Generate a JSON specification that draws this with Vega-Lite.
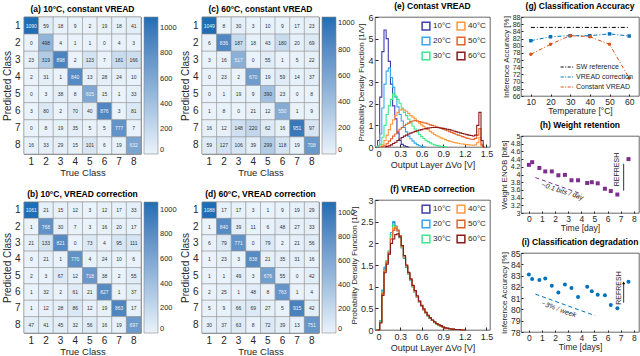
{
"$schema":"https://vega.github.io/schema/vega-lite/v6.json",
"padding":{"left":2,"top":1,"right":0,"bottom":0},
"config":{
 "font":"Liberation Sans",
 "view":{"stroke":"#262626","strokeWidth":0.7},
 "axis":{"labelColor":"#262626","titleColor":"#262626","titleFontWeight":"normal","grid":false,"domain":false,"tickColor":"#262626","labelFont":"Liberation Sans","titleFont":"Liberation Sans"},
 "title":{"fontSize":8.5,"fontWeight":"bold","color":"#000","offset":3},
 "legend":{"labelColor":"#262626","labelFont":"Liberation Sans"}
},
"datasets":{
"ca":[{"p":1,"t":1,"v":1090},{"p":1,"t":2,"v":59},{"p":1,"t":3,"v":18},{"p":1,"t":4,"v":9},{"p":1,"t":5,"v":2},{"p":1,"t":6,"v":19},{"p":1,"t":7,"v":18},{"p":1,"t":8,"v":41},
{"p":2,"t":1,"v":0},{"p":2,"t":2,"v":498},{"p":2,"t":3,"v":4},{"p":2,"t":4,"v":1},{"p":2,"t":5,"v":1},{"p":2,"t":6,"v":0},{"p":2,"t":7,"v":4},{"p":2,"t":8,"v":3},
{"p":3,"t":1,"v":23},{"p":3,"t":2,"v":319},{"p":3,"t":3,"v":898},{"p":3,"t":4,"v":2},{"p":3,"t":5,"v":123},{"p":3,"t":6,"v":7},{"p":3,"t":7,"v":181},{"p":3,"t":8,"v":166},
{"p":4,"t":1,"v":2},{"p":4,"t":2,"v":31},{"p":4,"t":3,"v":1},{"p":4,"t":4,"v":840},{"p":4,"t":5,"v":13},{"p":4,"t":6,"v":28},{"p":4,"t":7,"v":24},{"p":4,"t":8,"v":10},
{"p":5,"t":1,"v":0},{"p":5,"t":2,"v":3},{"p":5,"t":3,"v":38},{"p":5,"t":4,"v":8},{"p":5,"t":5,"v":605},{"p":5,"t":6,"v":15},{"p":5,"t":7,"v":1},{"p":5,"t":8,"v":33},
{"p":6,"t":1,"v":3},{"p":6,"t":2,"v":80},{"p":6,"t":3,"v":2},{"p":6,"t":4,"v":70},{"p":6,"t":5,"v":40},{"p":6,"t":6,"v":876},{"p":6,"t":7,"v":3},{"p":6,"t":8,"v":81},
{"p":7,"t":1,"v":0},{"p":7,"t":2,"v":8},{"p":7,"t":3,"v":19},{"p":7,"t":4,"v":35},{"p":7,"t":5,"v":5},{"p":7,"t":6,"v":5},{"p":7,"t":7,"v":777},{"p":7,"t":8,"v":7},
{"p":8,"t":1,"v":16},{"p":8,"t":2,"v":33},{"p":8,"t":3,"v":29},{"p":8,"t":4,"v":15},{"p":8,"t":5,"v":101},{"p":8,"t":6,"v":6},{"p":8,"t":7,"v":19},{"p":8,"t":8,"v":632}],
"cb":[{"p":1,"t":1,"v":1061},{"p":1,"t":2,"v":21},{"p":1,"t":3,"v":15},{"p":1,"t":4,"v":12},{"p":1,"t":5,"v":3},{"p":1,"t":6,"v":12},{"p":1,"t":7,"v":17},{"p":1,"t":8,"v":33},
{"p":2,"t":1,"v":1},{"p":2,"t":2,"v":768},{"p":2,"t":3,"v":30},{"p":2,"t":4,"v":7},{"p":2,"t":5,"v":3},{"p":2,"t":6,"v":16},{"p":2,"t":7,"v":20},{"p":2,"t":8,"v":17},
{"p":3,"t":1,"v":21},{"p":3,"t":2,"v":133},{"p":3,"t":3,"v":821},{"p":3,"t":4,"v":0},{"p":3,"t":5,"v":73},{"p":3,"t":6,"v":4},{"p":3,"t":7,"v":95},{"p":3,"t":8,"v":111},
{"p":4,"t":1,"v":0},{"p":4,"t":2,"v":21},{"p":4,"t":3,"v":1},{"p":4,"t":4,"v":770},{"p":4,"t":5,"v":4},{"p":4,"t":6,"v":24},{"p":4,"t":7,"v":10},{"p":4,"t":8,"v":6},
{"p":5,"t":1,"v":2},{"p":5,"t":2,"v":3},{"p":5,"t":3,"v":67},{"p":5,"t":4,"v":12},{"p":5,"t":5,"v":718},{"p":5,"t":6,"v":38},{"p":5,"t":7,"v":2},{"p":5,"t":8,"v":55},
{"p":6,"t":1,"v":1},{"p":6,"t":2,"v":32},{"p":6,"t":3,"v":2},{"p":6,"t":4,"v":61},{"p":6,"t":5,"v":21},{"p":6,"t":6,"v":827},{"p":6,"t":7,"v":1},{"p":6,"t":8,"v":37},
{"p":7,"t":1,"v":1},{"p":7,"t":2,"v":12},{"p":7,"t":3,"v":28},{"p":7,"t":4,"v":86},{"p":7,"t":5,"v":12},{"p":7,"t":6,"v":19},{"p":7,"t":7,"v":863},{"p":7,"t":8,"v":17},
{"p":8,"t":1,"v":47},{"p":8,"t":2,"v":41},{"p":8,"t":3,"v":45},{"p":8,"t":4,"v":32},{"p":8,"t":5,"v":56},{"p":8,"t":6,"v":16},{"p":8,"t":7,"v":19},{"p":8,"t":8,"v":697}],
"cc":[{"p":1,"t":1,"v":1049},{"p":1,"t":2,"v":8},{"p":1,"t":3,"v":30},{"p":1,"t":4,"v":3},{"p":1,"t":5,"v":10},{"p":1,"t":6,"v":9},{"p":1,"t":7,"v":17},{"p":1,"t":8,"v":23},
{"p":2,"t":1,"v":6},{"p":2,"t":2,"v":836},{"p":2,"t":3,"v":187},{"p":2,"t":4,"v":18},{"p":2,"t":5,"v":43},{"p":2,"t":6,"v":180},{"p":2,"t":7,"v":20},{"p":2,"t":8,"v":69},
{"p":3,"t":1,"v":3},{"p":3,"t":2,"v":16},{"p":3,"t":3,"v":517},{"p":3,"t":4,"v":0},{"p":3,"t":5,"v":55},{"p":3,"t":6,"v":1},{"p":3,"t":7,"v":5},{"p":3,"t":8,"v":22},
{"p":4,"t":1,"v":0},{"p":4,"t":2,"v":23},{"p":4,"t":3,"v":2},{"p":4,"t":4,"v":670},{"p":4,"t":5,"v":19},{"p":4,"t":6,"v":59},{"p":4,"t":7,"v":14},{"p":4,"t":8,"v":37},
{"p":5,"t":1,"v":0},{"p":5,"t":2,"v":1},{"p":5,"t":3,"v":19},{"p":5,"t":4,"v":9},{"p":5,"t":5,"v":390},{"p":5,"t":6,"v":23},{"p":5,"t":7,"v":0},{"p":5,"t":8,"v":8},
{"p":6,"t":1,"v":1},{"p":6,"t":2,"v":8},{"p":6,"t":3,"v":0},{"p":6,"t":4,"v":21},{"p":6,"t":5,"v":12},{"p":6,"t":6,"v":550},{"p":6,"t":7,"v":1},{"p":6,"t":8,"v":9},
{"p":7,"t":1,"v":16},{"p":7,"t":2,"v":12},{"p":7,"t":3,"v":148},{"p":7,"t":4,"v":220},{"p":7,"t":5,"v":62},{"p":7,"t":6,"v":16},{"p":7,"t":7,"v":951},{"p":7,"t":8,"v":97},
{"p":8,"t":1,"v":59},{"p":8,"t":2,"v":127},{"p":8,"t":3,"v":106},{"p":8,"t":4,"v":39},{"p":8,"t":5,"v":299},{"p":8,"t":6,"v":118},{"p":8,"t":7,"v":19},{"p":8,"t":8,"v":708}],
"cd":[{"p":1,"t":1,"v":1088},{"p":1,"t":2,"v":17},{"p":1,"t":3,"v":17},{"p":1,"t":4,"v":3},{"p":1,"t":5,"v":1},{"p":1,"t":6,"v":9},{"p":1,"t":7,"v":19},{"p":1,"t":8,"v":29},
{"p":2,"t":1,"v":1},{"p":2,"t":2,"v":840},{"p":2,"t":3,"v":39},{"p":2,"t":4,"v":11},{"p":2,"t":5,"v":6},{"p":2,"t":6,"v":48},{"p":2,"t":7,"v":27},{"p":2,"t":8,"v":33},
{"p":3,"t":1,"v":6},{"p":3,"t":2,"v":79},{"p":3,"t":3,"v":771},{"p":3,"t":4,"v":0},{"p":3,"t":5,"v":79},{"p":3,"t":6,"v":2},{"p":3,"t":7,"v":21},{"p":3,"t":8,"v":56},
{"p":4,"t":1,"v":1},{"p":4,"t":2,"v":23},{"p":4,"t":3,"v":3},{"p":4,"t":4,"v":838},{"p":4,"t":5,"v":21},{"p":4,"t":6,"v":35},{"p":4,"t":7,"v":31},{"p":4,"t":8,"v":16},
{"p":5,"t":1,"v":1},{"p":5,"t":2,"v":1},{"p":5,"t":3,"v":49},{"p":5,"t":4,"v":3},{"p":5,"t":5,"v":676},{"p":5,"t":6,"v":55},{"p":5,"t":7,"v":0},{"p":5,"t":8,"v":42},
{"p":6,"t":1,"v":2},{"p":6,"t":2,"v":25},{"p":6,"t":3,"v":1},{"p":6,"t":4,"v":48},{"p":6,"t":5,"v":8},{"p":6,"t":6,"v":763},{"p":6,"t":7,"v":1},{"p":6,"t":8,"v":4},
{"p":7,"t":1,"v":5},{"p":7,"t":2,"v":9},{"p":7,"t":3,"v":66},{"p":7,"t":4,"v":69},{"p":7,"t":5,"v":27},{"p":7,"t":6,"v":5},{"p":7,"t":7,"v":915},{"p":7,"t":8,"v":42},
{"p":8,"t":1,"v":30},{"p":8,"t":2,"v":37},{"p":8,"t":3,"v":63},{"p":8,"t":4,"v":8},{"p":8,"t":5,"v":72},{"p":8,"t":6,"v":39},{"p":8,"t":7,"v":13},{"p":8,"t":8,"v":751}],
"pe":[
{"T":"10°C","x":-0.03,"y":0},{"T":"10°C","x":0,"y":0.3},{"T":"10°C","x":0.03,"y":2.3},{"T":"10°C","x":0.06,"y":4.4},{"T":"10°C","x":0.09,"y":5.4},{"T":"10°C","x":0.12,"y":5.0},{"T":"10°C","x":0.15,"y":3.95},{"T":"10°C","x":0.18,"y":2.9},{"T":"10°C","x":0.21,"y":1.9},{"T":"10°C","x":0.24,"y":1.3},{"T":"10°C","x":0.27,"y":0.65},{"T":"10°C","x":0.3,"y":0.3},{"T":"10°C","x":0.33,"y":0.12},{"T":"10°C","x":0.36,"y":0.05},{"T":"10°C","x":0.39,"y":0.02},{"T":"10°C","x":0.42,"y":0},
{"T":"20°C","x":-0.03,"y":0},{"T":"20°C","x":0,"y":0.05},{"T":"20°C","x":0.03,"y":0.6},{"T":"20°C","x":0.06,"y":1.8},{"T":"20°C","x":0.09,"y":2.9},{"T":"20°C","x":0.12,"y":3.5},{"T":"20°C","x":0.15,"y":3.65},{"T":"20°C","x":0.18,"y":3.2},{"T":"20°C","x":0.21,"y":2.75},{"T":"20°C","x":0.24,"y":2.3},{"T":"20°C","x":0.27,"y":1.85},{"T":"20°C","x":0.3,"y":1.5},{"T":"20°C","x":0.33,"y":1.2},{"T":"20°C","x":0.36,"y":0.9},{"T":"20°C","x":0.39,"y":0.7},{"T":"20°C","x":0.42,"y":0.5},{"T":"20°C","x":0.45,"y":0.38},{"T":"20°C","x":0.48,"y":0.27},{"T":"20°C","x":0.51,"y":0.18},{"T":"20°C","x":0.54,"y":0.11},{"T":"20°C","x":0.57,"y":0.06},{"T":"20°C","x":0.6,"y":0.03},{"T":"20°C","x":0.63,"y":0.01},{"T":"20°C","x":0.66,"y":0},
{"T":"30°C","x":-0.03,"y":0},{"T":"30°C","x":0,"y":0.02},{"T":"30°C","x":0.03,"y":0.12},{"T":"30°C","x":0.06,"y":0.45},{"T":"30°C","x":0.09,"y":1.0},{"T":"30°C","x":0.12,"y":1.5},{"T":"30°C","x":0.15,"y":1.9},{"T":"30°C","x":0.18,"y":2.2},{"T":"30°C","x":0.21,"y":2.45},{"T":"30°C","x":0.24,"y":2.35},{"T":"30°C","x":0.27,"y":2.2},{"T":"30°C","x":0.3,"y":2.02},{"T":"30°C","x":0.33,"y":1.8},{"T":"30°C","x":0.36,"y":1.6},{"T":"30°C","x":0.39,"y":1.45},{"T":"30°C","x":0.42,"y":1.28},{"T":"30°C","x":0.45,"y":1.12},{"T":"30°C","x":0.48,"y":0.97},{"T":"30°C","x":0.51,"y":0.83},{"T":"30°C","x":0.54,"y":0.7},{"T":"30°C","x":0.57,"y":0.58},{"T":"30°C","x":0.6,"y":0.48},{"T":"30°C","x":0.63,"y":0.39},{"T":"30°C","x":0.66,"y":0.31},{"T":"30°C","x":0.69,"y":0.25},{"T":"30°C","x":0.72,"y":0.19},{"T":"30°C","x":0.75,"y":0.14},{"T":"30°C","x":0.78,"y":0.1},{"T":"30°C","x":0.81,"y":0.07},{"T":"30°C","x":0.84,"y":0.05},{"T":"30°C","x":0.87,"y":0.03},{"T":"30°C","x":0.9,"y":0.02},{"T":"30°C","x":0.93,"y":0.01},{"T":"30°C","x":0.96,"y":0},
{"T":"40°C","x":0,"y":0},{"T":"40°C","x":0.03,"y":0.02},{"T":"40°C","x":0.06,"y":0.1},{"T":"40°C","x":0.09,"y":0.3},{"T":"40°C","x":0.12,"y":0.55},{"T":"40°C","x":0.15,"y":0.8},{"T":"40°C","x":0.18,"y":1.05},{"T":"40°C","x":0.21,"y":1.25},{"T":"40°C","x":0.24,"y":1.45},{"T":"40°C","x":0.27,"y":1.6},{"T":"40°C","x":0.3,"y":1.7},{"T":"40°C","x":0.33,"y":1.75},{"T":"40°C","x":0.36,"y":1.7},{"T":"40°C","x":0.39,"y":1.65},{"T":"40°C","x":0.42,"y":1.55},{"T":"40°C","x":0.45,"y":1.45},{"T":"40°C","x":0.48,"y":1.38},{"T":"40°C","x":0.51,"y":1.3},{"T":"40°C","x":0.54,"y":1.2},{"T":"40°C","x":0.57,"y":1.1},{"T":"40°C","x":0.6,"y":1.02},{"T":"40°C","x":0.63,"y":0.95},{"T":"40°C","x":0.66,"y":0.88},{"T":"40°C","x":0.69,"y":0.8},{"T":"40°C","x":0.72,"y":0.72},{"T":"40°C","x":0.75,"y":0.65},{"T":"40°C","x":0.78,"y":0.58},{"T":"40°C","x":0.81,"y":0.52},{"T":"40°C","x":0.84,"y":0.47},{"T":"40°C","x":0.87,"y":0.42},{"T":"40°C","x":0.9,"y":0.38},{"T":"40°C","x":0.93,"y":0.34},{"T":"40°C","x":0.96,"y":0.3},{"T":"40°C","x":0.99,"y":0.27},{"T":"40°C","x":1.02,"y":0.24},{"T":"40°C","x":1.05,"y":0.21},{"T":"40°C","x":1.08,"y":0.19},{"T":"40°C","x":1.11,"y":0.17},{"T":"40°C","x":1.14,"y":0.15},{"T":"40°C","x":1.17,"y":0.14},{"T":"40°C","x":1.2,"y":0.12},{"T":"40°C","x":1.23,"y":0.11},{"T":"40°C","x":1.26,"y":0.1},{"T":"40°C","x":1.29,"y":0.09},{"T":"40°C","x":1.32,"y":0.08},{"T":"40°C","x":1.35,"y":0.1},{"T":"40°C","x":1.38,"y":0.2},{"T":"40°C","x":1.41,"y":0.45},{"T":"40°C","x":1.44,"y":0.05},{"T":"40°C","x":1.47,"y":0},
{"T":"50°C","x":0.03,"y":0},{"T":"50°C","x":0.06,"y":0.02},{"T":"50°C","x":0.09,"y":0.06},{"T":"50°C","x":0.12,"y":0.15},{"T":"50°C","x":0.15,"y":0.27},{"T":"50°C","x":0.18,"y":0.38},{"T":"50°C","x":0.21,"y":0.5},{"T":"50°C","x":0.24,"y":0.6},{"T":"50°C","x":0.27,"y":0.72},{"T":"50°C","x":0.3,"y":0.82},{"T":"50°C","x":0.33,"y":0.9},{"T":"50°C","x":0.36,"y":0.98},{"T":"50°C","x":0.39,"y":1.05},{"T":"50°C","x":0.42,"y":1.1},{"T":"50°C","x":0.45,"y":1.17},{"T":"50°C","x":0.48,"y":1.2},{"T":"50°C","x":0.51,"y":1.22},{"T":"50°C","x":0.54,"y":1.2},{"T":"50°C","x":0.57,"y":1.18},{"T":"50°C","x":0.6,"y":1.15},{"T":"50°C","x":0.63,"y":1.12},{"T":"50°C","x":0.66,"y":1.1},{"T":"50°C","x":0.69,"y":1.06},{"T":"50°C","x":0.72,"y":1.02},{"T":"50°C","x":0.75,"y":1.0},{"T":"50°C","x":0.78,"y":0.97},{"T":"50°C","x":0.81,"y":0.93},{"T":"50°C","x":0.84,"y":0.9},{"T":"50°C","x":0.87,"y":0.86},{"T":"50°C","x":0.9,"y":0.82},{"T":"50°C","x":0.93,"y":0.79},{"T":"50°C","x":0.96,"y":0.75},{"T":"50°C","x":0.99,"y":0.71},{"T":"50°C","x":1.02,"y":0.67},{"T":"50°C","x":1.05,"y":0.63},{"T":"50°C","x":1.08,"y":0.59},{"T":"50°C","x":1.11,"y":0.55},{"T":"50°C","x":1.14,"y":0.52},{"T":"50°C","x":1.17,"y":0.48},{"T":"50°C","x":1.2,"y":0.45},{"T":"50°C","x":1.23,"y":0.41},{"T":"50°C","x":1.26,"y":0.38},{"T":"50°C","x":1.29,"y":0.36},{"T":"50°C","x":1.32,"y":0.35},{"T":"50°C","x":1.35,"y":0.4},{"T":"50°C","x":1.38,"y":0.55},{"T":"50°C","x":1.41,"y":0.85},{"T":"50°C","x":1.44,"y":0.1},{"T":"50°C","x":1.47,"y":0},
{"T":"60°C","x":0.09,"y":0},{"T":"60°C","x":0.12,"y":0.02},{"T":"60°C","x":0.15,"y":0.05},{"T":"60°C","x":0.18,"y":0.1},{"T":"60°C","x":0.21,"y":0.16},{"T":"60°C","x":0.24,"y":0.22},{"T":"60°C","x":0.27,"y":0.3},{"T":"60°C","x":0.3,"y":0.37},{"T":"60°C","x":0.33,"y":0.44},{"T":"60°C","x":0.36,"y":0.5},{"T":"60°C","x":0.39,"y":0.55},{"T":"60°C","x":0.42,"y":0.6},{"T":"60°C","x":0.45,"y":0.64},{"T":"60°C","x":0.48,"y":0.68},{"T":"60°C","x":0.51,"y":0.72},{"T":"60°C","x":0.54,"y":0.75},{"T":"60°C","x":0.57,"y":0.78},{"T":"60°C","x":0.6,"y":0.8},{"T":"60°C","x":0.63,"y":0.83},{"T":"60°C","x":0.66,"y":0.85},{"T":"60°C","x":0.69,"y":0.87},{"T":"60°C","x":0.72,"y":0.89},{"T":"60°C","x":0.75,"y":0.9},{"T":"60°C","x":0.78,"y":0.9},{"T":"60°C","x":0.81,"y":0.9},{"T":"60°C","x":0.84,"y":0.89},{"T":"60°C","x":0.87,"y":0.88},{"T":"60°C","x":0.9,"y":0.86},{"T":"60°C","x":0.93,"y":0.84},{"T":"60°C","x":0.96,"y":0.82},{"T":"60°C","x":0.99,"y":0.8},{"T":"60°C","x":1.02,"y":0.77},{"T":"60°C","x":1.05,"y":0.74},{"T":"60°C","x":1.08,"y":0.71},{"T":"60°C","x":1.11,"y":0.68},{"T":"60°C","x":1.14,"y":0.65},{"T":"60°C","x":1.17,"y":0.62},{"T":"60°C","x":1.2,"y":0.6},{"T":"60°C","x":1.23,"y":0.57},{"T":"60°C","x":1.26,"y":0.55},{"T":"60°C","x":1.29,"y":0.53},{"T":"60°C","x":1.32,"y":0.51},{"T":"60°C","x":1.35,"y":0.55},{"T":"60°C","x":1.38,"y":1.0},{"T":"60°C","x":1.41,"y":1.6},{"T":"60°C","x":1.44,"y":0.3},{"T":"60°C","x":1.47,"y":0}],
"pf":[
{"T":"10°C","x":-0.03,"y":0},{"T":"10°C","x":0,"y":0},{"T":"10°C","x":0.03,"y":0.2},{"T":"10°C","x":0.06,"y":0.9},{"T":"10°C","x":0.09,"y":1.42},{"T":"10°C","x":0.12,"y":1.58},{"T":"10°C","x":0.15,"y":1.8},{"T":"10°C","x":0.18,"y":2.2},{"T":"10°C","x":0.21,"y":2.48},{"T":"10°C","x":0.24,"y":2.4},{"T":"10°C","x":0.27,"y":2.3},{"T":"10°C","x":0.3,"y":2.15},{"T":"10°C","x":0.33,"y":1.9},{"T":"10°C","x":0.36,"y":1.65},{"T":"10°C","x":0.39,"y":1.45},{"T":"10°C","x":0.42,"y":1.3},{"T":"10°C","x":0.45,"y":1.15},{"T":"10°C","x":0.48,"y":1.0},{"T":"10°C","x":0.51,"y":0.88},{"T":"10°C","x":0.54,"y":0.76},{"T":"10°C","x":0.57,"y":0.64},{"T":"10°C","x":0.6,"y":0.55},{"T":"10°C","x":0.63,"y":0.47},{"T":"10°C","x":0.66,"y":0.4},{"T":"10°C","x":0.69,"y":0.33},{"T":"10°C","x":0.72,"y":0.27},{"T":"10°C","x":0.75,"y":0.22},{"T":"10°C","x":0.78,"y":0.18},{"T":"10°C","x":0.81,"y":0.14},{"T":"10°C","x":0.84,"y":0.11},{"T":"10°C","x":0.87,"y":0.09},{"T":"10°C","x":0.9,"y":0.07},{"T":"10°C","x":0.93,"y":0.05},{"T":"10°C","x":0.96,"y":0.04},{"T":"10°C","x":0.99,"y":0.03},{"T":"10°C","x":1.02,"y":0.02},{"T":"10°C","x":1.08,"y":0.01},{"T":"10°C","x":1.2,"y":0},
{"T":"20°C","x":-0.03,"y":0},{"T":"20°C","x":0,"y":0},{"T":"20°C","x":0.03,"y":0.22},{"T":"20°C","x":0.06,"y":0.92},{"T":"20°C","x":0.09,"y":1.45},{"T":"20°C","x":0.12,"y":1.6},{"T":"20°C","x":0.15,"y":1.82},{"T":"20°C","x":0.18,"y":2.25},{"T":"20°C","x":0.21,"y":2.5},{"T":"20°C","x":0.24,"y":2.38},{"T":"20°C","x":0.27,"y":2.28},{"T":"20°C","x":0.3,"y":2.13},{"T":"20°C","x":0.33,"y":1.9},{"T":"20°C","x":0.36,"y":1.66},{"T":"20°C","x":0.39,"y":1.45},{"T":"20°C","x":0.42,"y":1.29},{"T":"20°C","x":0.45,"y":1.14},{"T":"20°C","x":0.48,"y":1.0},{"T":"20°C","x":0.51,"y":0.87},{"T":"20°C","x":0.54,"y":0.75},{"T":"20°C","x":0.57,"y":0.64},{"T":"20°C","x":0.6,"y":0.55},{"T":"20°C","x":0.63,"y":0.46},{"T":"20°C","x":0.66,"y":0.39},{"T":"20°C","x":0.69,"y":0.32},{"T":"20°C","x":0.72,"y":0.27},{"T":"20°C","x":0.75,"y":0.22},{"T":"20°C","x":0.78,"y":0.17},{"T":"20°C","x":0.81,"y":0.14},{"T":"20°C","x":0.84,"y":0.11},{"T":"20°C","x":0.87,"y":0.09},{"T":"20°C","x":0.9,"y":0.07},{"T":"20°C","x":0.93,"y":0.05},{"T":"20°C","x":0.96,"y":0.04},{"T":"20°C","x":0.99,"y":0.03},{"T":"20°C","x":1.02,"y":0.02},{"T":"20°C","x":1.08,"y":0.01},{"T":"20°C","x":1.2,"y":0},
{"T":"30°C","x":-0.03,"y":0},{"T":"30°C","x":0,"y":0},{"T":"30°C","x":0.03,"y":0.2},{"T":"30°C","x":0.06,"y":0.88},{"T":"30°C","x":0.09,"y":1.4},{"T":"30°C","x":0.12,"y":1.6},{"T":"30°C","x":0.15,"y":1.82},{"T":"30°C","x":0.18,"y":2.2},{"T":"30°C","x":0.21,"y":2.42},{"T":"30°C","x":0.24,"y":2.38},{"T":"30°C","x":0.27,"y":2.3},{"T":"30°C","x":0.3,"y":2.15},{"T":"30°C","x":0.33,"y":1.9},{"T":"30°C","x":0.36,"y":1.66},{"T":"30°C","x":0.39,"y":1.46},{"T":"30°C","x":0.42,"y":1.3},{"T":"30°C","x":0.45,"y":1.15},{"T":"30°C","x":0.48,"y":1.0},{"T":"30°C","x":0.51,"y":0.88},{"T":"30°C","x":0.54,"y":0.76},{"T":"30°C","x":0.57,"y":0.65},{"T":"30°C","x":0.6,"y":0.55},{"T":"30°C","x":0.63,"y":0.47},{"T":"30°C","x":0.66,"y":0.4},{"T":"30°C","x":0.69,"y":0.33},{"T":"30°C","x":0.72,"y":0.27},{"T":"30°C","x":0.75,"y":0.22},{"T":"30°C","x":0.78,"y":0.18},{"T":"30°C","x":0.81,"y":0.14},{"T":"30°C","x":0.84,"y":0.11},{"T":"30°C","x":0.87,"y":0.09},{"T":"30°C","x":0.9,"y":0.07},{"T":"30°C","x":0.93,"y":0.05},{"T":"30°C","x":0.96,"y":0.04},{"T":"30°C","x":0.99,"y":0.03},{"T":"30°C","x":1.02,"y":0.02},{"T":"30°C","x":1.08,"y":0.01},{"T":"30°C","x":1.2,"y":0},
{"T":"40°C","x":-0.03,"y":0},{"T":"40°C","x":0,"y":0},{"T":"40°C","x":0.03,"y":0.18},{"T":"40°C","x":0.06,"y":0.85},{"T":"40°C","x":0.09,"y":1.38},{"T":"40°C","x":0.12,"y":1.58},{"T":"40°C","x":0.15,"y":1.8},{"T":"40°C","x":0.18,"y":2.1},{"T":"40°C","x":0.21,"y":2.35},{"T":"40°C","x":0.24,"y":2.38},{"T":"40°C","x":0.27,"y":2.3},{"T":"40°C","x":0.3,"y":2.16},{"T":"40°C","x":0.33,"y":1.92},{"T":"40°C","x":0.36,"y":1.68},{"T":"40°C","x":0.39,"y":1.47},{"T":"40°C","x":0.42,"y":1.31},{"T":"40°C","x":0.45,"y":1.16},{"T":"40°C","x":0.48,"y":1.01},{"T":"40°C","x":0.51,"y":0.89},{"T":"40°C","x":0.54,"y":0.77},{"T":"40°C","x":0.57,"y":0.65},{"T":"40°C","x":0.6,"y":0.56},{"T":"40°C","x":0.63,"y":0.47},{"T":"40°C","x":0.66,"y":0.4},{"T":"40°C","x":0.69,"y":0.33},{"T":"40°C","x":0.72,"y":0.27},{"T":"40°C","x":0.75,"y":0.22},{"T":"40°C","x":0.78,"y":0.18},{"T":"40°C","x":0.81,"y":0.14},{"T":"40°C","x":0.84,"y":0.11},{"T":"40°C","x":0.87,"y":0.09},{"T":"40°C","x":0.9,"y":0.07},{"T":"40°C","x":0.93,"y":0.05},{"T":"40°C","x":0.96,"y":0.04},{"T":"40°C","x":0.99,"y":0.03},{"T":"40°C","x":1.02,"y":0.02},{"T":"40°C","x":1.08,"y":0.01},{"T":"40°C","x":1.2,"y":0},
{"T":"50°C","x":-0.03,"y":0},{"T":"50°C","x":0,"y":0},{"T":"50°C","x":0.03,"y":0.18},{"T":"50°C","x":0.06,"y":0.84},{"T":"50°C","x":0.09,"y":1.36},{"T":"50°C","x":0.12,"y":1.56},{"T":"50°C","x":0.15,"y":1.78},{"T":"50°C","x":0.18,"y":2.1},{"T":"50°C","x":0.21,"y":2.3},{"T":"50°C","x":0.24,"y":2.35},{"T":"50°C","x":0.27,"y":2.3},{"T":"50°C","x":0.3,"y":2.18},{"T":"50°C","x":0.33,"y":1.93},{"T":"50°C","x":0.36,"y":1.69},{"T":"50°C","x":0.39,"y":1.48},{"T":"50°C","x":0.42,"y":1.32},{"T":"50°C","x":0.45,"y":1.17},{"T":"50°C","x":0.48,"y":1.02},{"T":"50°C","x":0.51,"y":0.9},{"T":"50°C","x":0.54,"y":0.78},{"T":"50°C","x":0.57,"y":0.66},{"T":"50°C","x":0.6,"y":0.56},{"T":"50°C","x":0.63,"y":0.48},{"T":"50°C","x":0.66,"y":0.41},{"T":"50°C","x":0.69,"y":0.34},{"T":"50°C","x":0.72,"y":0.28},{"T":"50°C","x":0.75,"y":0.23},{"T":"50°C","x":0.78,"y":0.18},{"T":"50°C","x":0.81,"y":0.15},{"T":"50°C","x":0.84,"y":0.12},{"T":"50°C","x":0.87,"y":0.09},{"T":"50°C","x":0.9,"y":0.07},{"T":"50°C","x":0.93,"y":0.05},{"T":"50°C","x":0.96,"y":0.04},{"T":"50°C","x":0.99,"y":0.03},{"T":"50°C","x":1.02,"y":0.02},{"T":"50°C","x":1.08,"y":0.01},{"T":"50°C","x":1.2,"y":0},
{"T":"60°C","x":-0.03,"y":0},{"T":"60°C","x":0,"y":0},{"T":"60°C","x":0.03,"y":0.16},{"T":"60°C","x":0.06,"y":0.8},{"T":"60°C","x":0.09,"y":1.32},{"T":"60°C","x":0.12,"y":1.52},{"T":"60°C","x":0.15,"y":1.75},{"T":"60°C","x":0.18,"y":2.0},{"T":"60°C","x":0.21,"y":2.1},{"T":"60°C","x":0.24,"y":2.2},{"T":"60°C","x":0.27,"y":2.22},{"T":"60°C","x":0.3,"y":2.15},{"T":"60°C","x":0.33,"y":1.95},{"T":"60°C","x":0.36,"y":1.72},{"T":"60°C","x":0.39,"y":1.5},{"T":"60°C","x":0.42,"y":1.33},{"T":"60°C","x":0.45,"y":1.18},{"T":"60°C","x":0.48,"y":1.03},{"T":"60°C","x":0.51,"y":0.91},{"T":"60°C","x":0.54,"y":0.79},{"T":"60°C","x":0.57,"y":0.67},{"T":"60°C","x":0.6,"y":0.57},{"T":"60°C","x":0.63,"y":0.49},{"T":"60°C","x":0.66,"y":0.41},{"T":"60°C","x":0.69,"y":0.34},{"T":"60°C","x":0.72,"y":0.28},{"T":"60°C","x":0.75,"y":0.23},{"T":"60°C","x":0.78,"y":0.19},{"T":"60°C","x":0.81,"y":0.15},{"T":"60°C","x":0.84,"y":0.12},{"T":"60°C","x":0.87,"y":0.1},{"T":"60°C","x":0.9,"y":0.07},{"T":"60°C","x":0.93,"y":0.05},{"T":"60°C","x":0.96,"y":0.04},{"T":"60°C","x":0.99,"y":0.03},{"T":"60°C","x":1.02,"y":0.02},{"T":"60°C","x":1.08,"y":0.01},{"T":"60°C","x":1.2,"y":0}],
"pg":[{"s":"SW reference","T":10,"a":85.1},{"s":"SW reference","T":20,"a":85.1},{"s":"SW reference","T":30,"a":85.1},{"s":"SW reference","T":40,"a":85.1},{"s":"SW reference","T":50,"a":85.1},{"s":"SW reference","T":60,"a":85.1},
{"s":"VREAD correction","T":10,"a":81.4},{"s":"VREAD correction","T":20,"a":82.5},{"s":"VREAD correction","T":30,"a":82.8},{"s":"VREAD correction","T":40,"a":82.8},{"s":"VREAD correction","T":50,"a":83.3},{"s":"VREAD correction","T":60,"a":82.7},
{"s":"Constant VREAD","T":10,"a":77.6},{"s":"Constant VREAD","T":20,"a":80.4},{"s":"Constant VREAD","T":30,"a":82.8},{"s":"Constant VREAD","T":40,"a":82.5},{"s":"Constant VREAD","T":50,"a":80.4},{"s":"Constant VREAD","T":60,"a":71.0}],
"ph":[{"d":0,"e":4.25},{"d":0.25,"e":4.32},{"d":0.8,"e":4.17},{"d":1.25,"e":4.08},{"d":1.75,"e":4.08},{"d":2.25,"e":3.98},{"d":2.75,"e":3.99},{"d":3.25,"e":3.85},{"d":3.75,"e":3.85},{"d":4.45,"e":3.78},{"d":4.8,"e":3.8},{"d":5.25,"e":3.77},{"d":5.8,"e":3.63},{"d":6.25,"e":3.57},{"d":6.75,"e":3.48},{"d":7.6,"e":4.4}],
"pi":[{"d":0,"a":83.09},{"d":0.25,"a":82.7},{"d":0.8,"a":82.6},{"d":1.25,"a":82.75},{"d":1.75,"a":82.1},{"d":2.25,"a":81.5},{"d":2.75,"a":82.2},{"d":3.25,"a":81.9},{"d":3.75,"a":81.1},{"d":4.45,"a":82.0},{"d":4.8,"a":81.6},{"d":5.25,"a":81.3},{"d":5.8,"a":81.25},{"d":6.25,"a":80.4},{"d":6.75,"a":80.1},{"d":7.6,"a":82.45}]
},
"spacing":-6,
"resolve":{"scale":{"color":"independent"},"legend":{"color":"independent"}},
"hconcat":[
{"spacing":2,"resolve":{"scale":{"color":"independent"},"legend":{"color":"independent"}},
 "hconcat":[
 {"vconcat":[
  {"width":117,"height":137,"title":"(a) 10°C, constant VREAD","data":{"name":"ca"},
   "encoding":{"x":{"field":"t","type":"ordinal","axis":{"title":"True Class","labelAngle":0,"ticks":false,"labelFontSize":10,"titleFontSize":9.5,"labelPadding":2,"titlePadding":1}},
               "y":{"field":"p","type":"ordinal","axis":{"title":"Predicted Class","ticks":false,"labelFontSize":10,"titleFontSize":10,"labelPadding":4,"titlePadding":2}}},
   "layer":[
    {"mark":{"type":"rect","stroke":"#8c8c8c","strokeWidth":0.5},"encoding":{"color":{"field":"v","type":"quantitative","scale":{"range":["#eaf3fb","#1f6db4"],"zero":true,"nice":false},"legend":{"title":null,"orient":"right","direction":"vertical","gradientLength":137,"gradientThickness":14,"values":[0,200,400,600,800,1000],"format":"d","labelFontSize":7.5,"offset":3,"padding":0,"gradientStrokeColor":"#888","gradientStrokeWidth":0.6,"labelOverlap":false}}}},
    {"mark":{"type":"text","fontSize":5},"encoding":{"text":{"field":"v","type":"quantitative","format":"d"},"color":{"condition":{"test":"datum.v>500","value":"#f2f2f2"},"value":"#333333"}}}
   ]},
  {"width":117,"height":131,"title":"(b) 10°C, VREAD correction","data":{"name":"cb"},
   "encoding":{"x":{"field":"t","type":"ordinal","axis":{"title":"True Class","labelAngle":0,"ticks":false,"labelFontSize":10,"titleFontSize":9.5,"labelPadding":2,"titlePadding":1}},
               "y":{"field":"p","type":"ordinal","axis":{"title":"Predicted Class","ticks":false,"labelFontSize":10,"titleFontSize":10,"labelPadding":4,"titlePadding":2}}},
   "layer":[
    {"mark":{"type":"rect","stroke":"#8c8c8c","strokeWidth":0.5},"encoding":{"color":{"field":"v","type":"quantitative","scale":{"range":["#eaf3fb","#1f6db4"],"zero":true,"nice":false},"legend":{"title":null,"orient":"right","direction":"vertical","gradientLength":131,"gradientThickness":14,"values":[0,200,400,600,800,1000],"format":"d","labelFontSize":7.5,"offset":3,"padding":0,"gradientStrokeColor":"#888","gradientStrokeWidth":0.6,"labelOverlap":false}}}},
    {"mark":{"type":"text","fontSize":5},"encoding":{"text":{"field":"v","type":"quantitative","format":"d"},"color":{"condition":{"test":"datum.v>500","value":"#f2f2f2"},"value":"#333333"}}}
   ]}
 ],"spacing":12,"resolve":{"scale":{"color":"independent"},"legend":{"color":"independent"}}},
 {"vconcat":[
  {"width":117,"height":137,"title":"(c) 60°C, constant VREAD","data":{"name":"cc"},
   "encoding":{"x":{"field":"t","type":"ordinal","axis":{"title":"True Class","labelAngle":0,"ticks":false,"labelFontSize":10,"titleFontSize":9.5,"labelPadding":2,"titlePadding":1}},
               "y":{"field":"p","type":"ordinal","axis":{"title":"Predicted Class","ticks":false,"labelFontSize":10,"titleFontSize":10,"labelPadding":4,"titlePadding":2}}},
   "layer":[
    {"mark":{"type":"rect","stroke":"#8c8c8c","strokeWidth":0.5},"encoding":{"color":{"field":"v","type":"quantitative","scale":{"range":["#eaf3fb","#1f6db4"],"zero":true,"nice":false},"legend":{"title":null,"orient":"right","direction":"vertical","gradientLength":137,"gradientThickness":14,"values":[0,200,400,600,800,1000],"format":"d","labelFontSize":7.5,"offset":3,"padding":0,"gradientStrokeColor":"#888","gradientStrokeWidth":0.6,"labelOverlap":false}}}},
    {"mark":{"type":"text","fontSize":5},"encoding":{"text":{"field":"v","type":"quantitative","format":"d"},"color":{"condition":{"test":"datum.v>500","value":"#f2f2f2"},"value":"#333333"}}}
   ]},
  {"width":117,"height":131,"title":"(d) 60°C, VREAD correction","data":{"name":"cd"},
   "encoding":{"x":{"field":"t","type":"ordinal","axis":{"title":"True Class","labelAngle":0,"ticks":false,"labelFontSize":10,"titleFontSize":9.5,"labelPadding":2,"titlePadding":1}},
               "y":{"field":"p","type":"ordinal","axis":{"title":"Predicted Class","ticks":false,"labelFontSize":10,"titleFontSize":10,"labelPadding":4,"titlePadding":2}}},
   "layer":[
    {"mark":{"type":"rect","stroke":"#8c8c8c","strokeWidth":0.5},"encoding":{"color":{"field":"v","type":"quantitative","scale":{"range":["#eaf3fb","#1f6db4"],"zero":true,"nice":false},"legend":{"title":null,"orient":"right","direction":"vertical","gradientLength":131,"gradientThickness":14,"values":[0,200,400,600,800,1000],"format":"d","labelFontSize":7.5,"offset":3,"padding":0,"gradientStrokeColor":"#888","gradientStrokeWidth":0.6,"labelOverlap":false}}}},
    {"mark":{"type":"text","fontSize":5},"encoding":{"text":{"field":"v","type":"quantitative","format":"d"},"color":{"condition":{"test":"datum.v>500","value":"#f2f2f2"},"value":"#333333"}}}
   ]}
 ],"spacing":12,"resolve":{"scale":{"color":"independent"},"legend":{"color":"independent"}}}
 ]},
{"spacing":5,"resolve":{"scale":{"color":"independent"},"legend":{"color":"independent"}},
 "hconcat":[
 {"vconcat":[
  {"width":115,"height":130,"title":"(e) Contast VREAD","data":{"name":"pe"},
   "mark":{"type":"line","interpolate":"step","strokeWidth":1.1},
   "encoding":{
    "x":{"field":"x","type":"quantitative","scale":{"domain":[-0.05,1.55],"nice":false},"axis":{"values":[0,0.3,0.6,0.9,1.2,1.5],"format":".1~f","title":"Output Layer ΔVo [V]","labelFontSize":9,"titleFontSize":9,"tickSize":-3,"labelPadding":5,"titlePadding":2}},
    "y":{"field":"y","type":"quantitative","scale":{"domain":[0,6],"nice":false},"axis":{"values":[0,1,2,3,4,5,6],"title":"Probability Density Function [1/V]","labelFontSize":9,"titleFontSize":8,"tickSize":-3,"labelPadding":5,"titlePadding":2}},
    "color":{"field":"T","type":"nominal","scale":{"domain":["10°C","20°C","30°C","40°C","50°C","60°C"],"range":["#3d3fb0","#3aa8f0","#3ee88a","#ff9a3c","#e2622a","#8b1a1a"]},
     "legend":{"title":null,"orient":"top-right","columns":2,"symbolType":"square","symbolSize":60,"symbolStrokeWidth":1.5,"labelFontSize":8,"rowPadding":1,"columnPadding":3,"padding":2,"offset":2,"labelOffset":2}}}},
  {"width":115,"height":130,"title":"(f) VREAD correction","data":{"name":"pf"},
   "mark":{"type":"line","interpolate":"step","strokeWidth":1.1},
   "encoding":{
    "x":{"field":"x","type":"quantitative","scale":{"domain":[-0.05,1.55],"nice":false},"axis":{"values":[0,0.3,0.6,0.9,1.2,1.5],"format":".1~f","title":"Output Layer ΔVo [V]","labelFontSize":9,"titleFontSize":9,"tickSize":-3,"labelPadding":5,"titlePadding":2}},
    "y":{"field":"y","type":"quantitative","scale":{"domain":[0,3],"nice":false},"axis":{"values":[0,0.5,1,1.5,2,2.5,3],"format":".1~f","title":"Probability Density Function [1/V]","labelFontSize":9,"titleFontSize":8,"tickSize":-3,"labelPadding":5,"titlePadding":2}},
    "color":{"field":"T","type":"nominal","scale":{"domain":["10°C","20°C","30°C","40°C","50°C","60°C"],"range":["#3d3fb0","#3aa8f0","#3ee88a","#ff9a3c","#e2622a","#8b1a1a"]},
     "legend":{"title":null,"orient":"top-right","columns":2,"symbolType":"square","symbolSize":60,"symbolStrokeWidth":1.5,"labelFontSize":8,"rowPadding":1,"columnPadding":3,"padding":2,"offset":2,"labelOffset":2}}}}
 ],"spacing":14,"resolve":{"scale":{"color":"independent"},"legend":{"color":"independent"}}},
 {"vconcat":[
  {"width":118,"height":79,"title":"(g) Classification Accuracy","data":{"name":"pg"},
   "encoding":{
    "x":{"field":"T","type":"quantitative","scale":{"domain":[5,65],"nice":false},"axis":{"values":[10,20,30,40,50,60],"title":"Temperature [°C]","labelFontSize":8.5,"titleFontSize":8.5,"tickSize":-2,"labelPadding":3,"titlePadding":1}},
    "y":{"field":"a","type":"quantitative","scale":{"domain":[66,88],"nice":false,"zero":false},"axis":{"values":[66,68,70,72,74,76,78,80,82,84,86,88],"title":"Inference Accuracy [%]","labelFontSize":7,"titleFontSize":8,"tickSize":-2,"labelPadding":3,"titlePadding":2}},
    "color":{"field":"s","type":"nominal","scale":{"domain":["SW reference","VREAD correction","Constant VREAD"],"range":["#000000","#0072BD","#D95319"]},
     "legend":{"title":null,"orient":"bottom-right","offset":6,"labelFontSize":7,"symbolType":"stroke","symbolDash":[3,1.5,1,1.5],"symbolStrokeWidth":1,"symbolSize":160,"rowPadding":0,"padding":0,"labelOffset":2}}},
   "layer":[
    {"mark":{"type":"line","strokeDash":[4,2,1,2],"strokeWidth":1}},
    {"transform":[{"filter":"datum.s != 'SW reference'"}],"mark":{"type":"point","filled":true,"size":12,"opacity":1},
     "encoding":{"shape":{"field":"s","type":"nominal","scale":{"domain":["VREAD correction","Constant VREAD"],"range":["square","circle"]},"legend":null}}}
   ]},
  {"width":118,"height":77,"title":"(h) Weight retention",
   "encoding":{
    "x":{"field":"d","type":"quantitative","scale":{"domain":[-0.6,8.4],"nice":false},"axis":{"values":[0,1,2,3,4,5,6,7,8],"title":"Time [day]","labelFontSize":8.5,"titleFontSize":8.5,"tickSize":-2,"labelPadding":3,"titlePadding":1}},
    "y":{"field":"e","type":"quantitative","scale":{"domain":[3,5],"nice":false,"zero":false},"axis":{"values":[3,3.2,3.4,3.6,3.8,4,4.2,4.4,4.6,4.8,5],"format":".1~f","title":"Weight ENOB [bits]","labelFontSize":7,"titleFontSize":8,"tickSize":-2,"labelPadding":3,"titlePadding":2}}},
   "layer":[
    {"data":{"name":"ph"},"mark":{"type":"point","filled":true,"shape":"square","size":16,"color":"#7E2F8E","opacity":1}},
    {"data":{"values":[{"d":0.5,"e":3.92},{"d":4.05,"e":3.49}]},"mark":{"type":"line","strokeDash":[4,3],"color":"#7E2F8E","strokeWidth":1}},
    {"data":{"values":[{"d":2.56,"e":3.56,"txt":"−0.1 bits / day"}]},"mark":{"type":"text","angle":18,"fontStyle":"italic","fontSize":7,"color":"#222"},"encoding":{"text":{"field":"txt"}}},
    {"data":{"values":[{"d":6.72,"e":4.13,"txt":"REFRESH"}]},"mark":{"type":"text","angle":270,"fontSize":7,"color":"#222"},"encoding":{"text":{"field":"txt"}}},
    {"data":{"values":[{"d":7.23,"e":3.58,"e2":4.28}]},"mark":{"type":"rule","color":"#000","strokeWidth":0.8},"encoding":{"y2":{"field":"e2"}}}
   ]},
  {"width":118,"height":79,"title":"(i) Classification degradation",
   "encoding":{
    "x":{"field":"d","type":"quantitative","scale":{"domain":[-0.6,8.4],"nice":false},"axis":{"values":[0,1,2,3,4,5,6,7,8],"title":"Time [days]","labelFontSize":8.5,"titleFontSize":8.5,"tickSize":-2,"labelPadding":3,"titlePadding":1}},
    "y":{"field":"a","type":"quantitative","scale":{"domain":[78,85],"nice":false,"zero":false},"axis":{"values":[78,79,80,81,82,83,84,85],"title":"Inference Accuracy [%]","labelFontSize":8.5,"titleFontSize":8,"tickSize":-2,"labelPadding":3,"titlePadding":2}}},
   "layer":[
    {"data":{"name":"pi"},"mark":{"type":"point","filled":true,"shape":"circle","size":16,"color":"#0072BD","opacity":1}},
    {"data":{"values":[{"d":0.5,"a":81.35},{"d":5.05,"a":79.45}]},"mark":{"type":"line","strokeDash":[4,3],"color":"#0072BD","strokeWidth":1}},
    {"data":{"values":[{"d":2.28,"a":80.0,"txt":"−3% / week"}]},"mark":{"type":"text","angle":20,"fontStyle":"italic","fontSize":7,"color":"#222"},"encoding":{"text":{"field":"txt"}}},
    {"data":{"values":[{"d":6.85,"a":81.9,"txt":"REFRESH"}]},"mark":{"type":"text","angle":270,"fontSize":7,"color":"#222"},"encoding":{"text":{"field":"txt"}}},
    {"data":{"values":[{"d":7.23,"a":80.6,"a2":82.3}]},"mark":{"type":"rule","color":"#000","strokeWidth":0.8},"encoding":{"y2":{"field":"a2"}}},
    {"data":{"values":[{"d":7.23,"a":82.35}]},"mark":{"type":"point","shape":"triangle-up","filled":true,"size":10,"color":"#000","opacity":1}}
   ]}
 ],"spacing":4,"resolve":{"scale":{"color":"independent"},"legend":{"color":"independent"}}}
 ]}
]
}
